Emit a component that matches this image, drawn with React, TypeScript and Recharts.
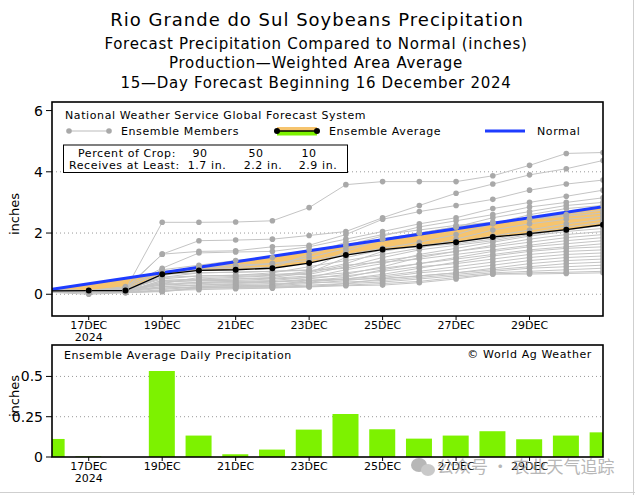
import React from "react";
import { ComposedChart, BarChart, Bar, Line, Area, XAxis, YAxis, CartesianGrid } from "recharts";

const FONT = "'DejaVu Sans', sans-serif";

// forecast days, index 0 = 16 Dec 2024
const days = [0, 1, 2, 3, 4, 5, 6, 7, 8, 9, 10, 11, 12, 13, 14, 15];
const dayLabels = ["16DEC", "17DEC", "18DEC", "19DEC", "20DEC", "21DEC", "22DEC", "23DEC",
  "24DEC", "25DEC", "26DEC", "27DEC", "28DEC", "29DEC", "30DEC", "31DEC"];
const tickDays = [1, 3, 5, 7, 9, 11, 13];

// accumulated precipitation (inches)
const normal = [0.16, 0.34, 0.52, 0.7, 0.88, 1.06, 1.24, 1.42, 1.6, 1.78, 1.96, 2.14, 2.32, 2.5, 2.68, 2.86];
const ensembleAvg = [0.11, 0.12, 0.12, 0.65, 0.78, 0.8, 0.85, 1.02, 1.28, 1.46, 1.57, 1.7, 1.87, 1.98, 2.11, 2.27];

// daily ensemble average (inches)
const dailyAvg = [0.112, 0.004, 0, 0.534, 0.133, 0.017, 0.046, 0.17, 0.267, 0.172, 0.114, 0.133, 0.16, 0.11, 0.133, 0.153];

// GFS ensemble members, accumulated
const members = [
  [0.12, 0.1, 0.15, 2.35, 2.35, 2.36, 2.4, 2.83, 3.58, 3.68, 3.68, 3.68, 3.87, 4.21, 4.6, 4.63],
  [0.1, 0.08, 0.2, 1.31, 1.75, 1.77, 1.8, 1.92, 2.05, 2.5, 2.9, 3.3, 3.6, 3.9, 4.1, 4.37],
  [0.1, 0.05, 0.15, 1.31, 1.4, 1.42, 1.55, 1.6, 1.95, 2.45, 2.7, 2.9, 3.1, 3.4, 3.6, 3.73],
  [0.15, 0.12, 0.25, 0.85, 1.35, 1.38, 1.4, 1.55, 1.8, 2.05, 2.3, 2.5, 2.8, 3.0, 3.2, 3.4],
  [0.1, 0.1, 0.18, 0.8, 0.95, 1.1, 1.2, 1.45, 1.6, 1.9, 2.2, 2.4, 2.6, 2.85, 3.0, 3.15],
  [0.12, 0.08, 0.1, 0.7, 0.9, 0.95, 1.0, 1.2, 1.5, 1.8, 2.0, 2.2, 2.5, 2.7, 2.9, 3.0],
  [0.08, 0.05, 0.1, 0.6, 0.85, 0.9, 1.0, 1.1, 1.3, 1.5, 1.7, 1.95, 2.3, 2.6, 2.8, 2.9],
  [0.1, 0.1, 0.2, 0.75, 0.8, 0.85, 0.88, 1.3, 1.7, 1.95, 2.1, 2.25, 2.35, 2.45, 2.6, 2.75],
  [0.1, 0.06, 0.12, 0.55, 0.7, 0.72, 0.75, 0.8, 1.4, 1.8, 2.0, 2.2, 2.35, 2.45, 2.55, 2.65],
  [0.12, 0.1, 0.15, 0.5, 0.6, 0.62, 0.7, 0.9, 1.1, 1.3, 1.5, 1.8, 2.1, 2.3, 2.45, 2.55],
  [0.1, 0.08, 0.1, 0.45, 0.5, 0.55, 0.6, 0.75, 1.0, 1.4, 1.6, 1.7, 1.9, 2.1, 2.3, 2.45],
  [0.08, 0.05, 0.08, 0.4, 0.45, 0.5, 0.55, 0.7, 1.2, 1.45, 1.55, 1.65, 1.8, 2.0, 2.2, 2.35],
  [0.1, 0.1, 0.12, 0.35, 0.55, 0.58, 0.62, 0.65, 0.9, 1.2, 1.45, 1.6, 1.75, 1.95, 2.1, 2.25],
  [0.15, 0.12, 0.2, 0.3, 0.4, 0.42, 0.45, 0.55, 0.8, 1.0, 1.3, 1.5, 1.7, 1.9, 2.05, 2.15],
  [0.1, 0.06, 0.15, 0.65, 0.7, 0.72, 0.75, 0.78, 0.85, 1.1, 1.25, 1.4, 1.6, 1.8, 1.95, 2.05],
  [0.08, 0.05, 0.1, 0.25, 0.3, 0.35, 0.4, 0.5, 0.65, 0.9, 1.2, 1.4, 1.55, 1.7, 1.85, 1.95],
  [0.1, 0.08, 0.12, 0.55, 0.6, 0.62, 0.65, 0.7, 0.95, 1.05, 1.15, 1.3, 1.45, 1.6, 1.75, 1.85],
  [0.12, 0.1, 0.15, 0.2, 0.25, 0.3, 0.3, 0.45, 0.55, 0.8, 1.0, 1.2, 1.4, 1.55, 1.65, 1.75],
  [0.1, 0.05, 0.08, 0.45, 0.48, 0.5, 0.52, 0.6, 0.7, 0.85, 1.0, 1.15, 1.3, 1.45, 1.55, 1.65],
  [0.08, 0.04, 0.06, 0.15, 0.25, 0.28, 0.3, 0.4, 0.5, 0.65, 0.85, 1.05, 1.25, 1.4, 1.5, 1.55],
  [0.1, 0.08, 0.1, 0.4, 0.45, 0.45, 0.5, 0.55, 0.6, 0.75, 0.9, 1.0, 1.15, 1.3, 1.4, 1.45],
  [0.12, 0.1, 0.12, 0.3, 0.35, 0.38, 0.4, 0.45, 0.5, 0.6, 0.75, 0.9, 1.05, 1.2, 1.3, 1.35],
  [0.1, 0.06, 0.08, 0.2, 0.22, 0.25, 0.28, 0.35, 0.45, 0.55, 0.7, 0.8, 0.95, 1.1, 1.2, 1.25],
  [0.08, 0.05, 0.06, 0.12, 0.15, 0.18, 0.2, 0.25, 0.35, 0.5, 0.6, 0.7, 0.85, 1.0, 1.1, 1.15],
  [0.1, 0.05, 0.1, 0.35, 0.38, 0.4, 0.42, 0.45, 0.48, 0.52, 0.6, 0.7, 0.8, 0.9, 1.0, 1.05],
  [0.1, 0.08, 0.1, 0.25, 0.3, 0.32, 0.35, 0.38, 0.4, 0.45, 0.55, 0.65, 0.75, 0.85, 0.9, 0.95],
  [0.08, 0.05, 0.06, 0.1, 0.22, 0.24, 0.26, 0.3, 0.35, 0.4, 0.5, 0.6, 0.7, 0.75, 0.8, 0.85],
  [0.1, 0.06, 0.08, 0.08, 0.2, 0.22, 0.24, 0.26, 0.3, 0.35, 0.42, 0.55, 0.66, 0.7, 0.72, 0.75],
  [0.06, 0.0, 0.05, 0.1, 0.2, 0.2, 0.22, 0.24, 0.28, 0.3, 0.38, 0.5, 0.66, 0.66, 0.68, 0.7],
];

const rows = days.map((d, i) => {
  const row: any = { day: d, normal: normal[i], avg: ensembleAvg[i], band: [ensembleAvg[i], normal[i]] };
  members.forEach((m, k) => { row[`m${k}`] = m[i]; });
  return row;
});
const barRows = days.map((d, i) => ({ day: d, precip: dailyAvg[i] }));

const DayTick = (props: any) => {
  const { x, y, payload } = props;
  return (
    <g transform={`translate(${x},${y})`}>
      <text x={0} y={7} textAnchor="middle" fontSize={11} fontFamily={FONT} fill="#000">{dayLabels[payload.value]}</text>
      {payload.value === 1 && (
        <text x={0} y={19} textAnchor="middle" fontSize={11} fontFamily={FONT} fill="#000">2024</text>
      )}
    </g>
  );
};

const memberDot = (p: any) =>
  p.index === 0 ? <g key={`${p.dataKey}-${p.index}`} /> :
    <circle key={`${p.dataKey}-${p.index}`} cx={p.cx} cy={p.cy} r={2.8} fill="#a9a9a9" />;

const avgDot = (p: any) =>
  p.index === 0 ? <g key={`avg-${p.index}`} /> :
    <circle key={`avg-${p.index}`} cx={p.cx} cy={p.cy} r={3} fill="#000" />;

const yTick = { fontSize: 14, fill: "#000", fontFamily: FONT };

export default function App() {
  return (
    <div style={{ position: "absolute", left: 0, top: 0, width: 635, height: 495, background: "#fff", fontFamily: FONT }}>
      <div style={{ position: "absolute", left: 0, top: 0 }}>
        <ComposedChart width={635} height={345} data={rows} margin={{ top: 102, right: 32, bottom: 1, left: 12 }}>
          <CartesianGrid horizontal vertical={false} horizontalValues={[0, 2, 4]} stroke="#999" strokeDasharray="1 3" />
          <XAxis dataKey="day" type="number" domain={[0, 15]} ticks={tickDays} allowDataOverflow
            height={28} axisLine={false} tickLine={{ stroke: "#000" }} tickSize={4} tickMargin={2} tick={<DayTick />} />
          <YAxis type="number" domain={[-0.71, 6.28]} ticks={[0, 2, 4, 6]} allowDataOverflow width={40}
            axisLine={false} tickLine={{ stroke: "#000" }} tickSize={6} tickMargin={3} tick={yTick} />
          <Area dataKey="band" stroke="none" fill="#f6c46e" fillOpacity={1} isAnimationActive={false} />
          {members.map((_, k) => (
            <Line key={k} dataKey={`m${k}`} stroke="#c4c4c4" strokeWidth={1} dot={memberDot}
              activeDot={false} isAnimationActive={false} />
          ))}
          <Line dataKey="normal" stroke="#1e3cff" strokeWidth={3} dot={false} activeDot={false} isAnimationActive={false} />
          <Line dataKey="avg" stroke="#000" strokeWidth={1.3} dot={avgDot} activeDot={false} isAnimationActive={false} />
        </ComposedChart>
      </div>

      <div style={{ position: "absolute", left: 0, top: 330 }}>
        <BarChart width={635} height={165} data={barRows} margin={{ top: 15, right: 32, bottom: 8, left: 12 }}>
          <CartesianGrid horizontal vertical={false} horizontalValues={[0.25, 0.5]} stroke="#999" strokeDasharray="1 3" />
          <XAxis dataKey="day" type="number" domain={[0, 15]} ticks={tickDays} allowDataOverflow
            height={30} axisLine={false} tickLine={{ stroke: "#000" }} tickSize={4} tickMargin={2} tick={<DayTick />} />
          <YAxis type="number" domain={[0, 0.695]} ticks={[0, 0.25, 0.5]} allowDataOverflow width={40}
            axisLine={false} tickLine={{ stroke: "#000" }} tickSize={6} tickMargin={3} tick={yTick} />
          <Bar dataKey="precip" fill="#7df200" barSize={26} isAnimationActive={false} />
        </BarChart>
      </div>

      <svg width={635} height={495} style={{ position: "absolute", left: 0, top: 0, pointerEvents: "none" }} fontFamily={FONT}>
        <g textAnchor="middle" fill="#000">
          <text x={317} y={26} fontSize={18} letterSpacing={1}>Rio Grande do Sul Soybeans Precipitation</text>
          <text x={316} y={49} fontSize={15} letterSpacing={0.7}>Forecast Precipitation Compared to Normal (inches)</text>
          <text x={316} y={68} fontSize={15} letterSpacing={0.7}>Production—Weighted Area Average</text>
          <text x={316} y={88} fontSize={15} letterSpacing={0.7}>15—Day Forecast Beginning 16 December 2024</text>
        </g>

        {/* plot frames */}
        <rect x={52} y={102} width={551} height={214} fill="none" stroke="#000" strokeWidth={1.6} />
        <rect x={52} y={345} width={551} height={112} fill="none" stroke="#000" strokeWidth={1.6} />

        {/* legend */}
        <g fontSize={11} letterSpacing={0.6} fill="#000">
          <text x={65} y={119}>National Weather Service Global Forecast System</text>
          <line x1={69} y1={131} x2={109} y2={131} stroke="#bbb" strokeWidth={1} />
          <circle cx={69} cy={131} r={2.8} fill="#a9a9a9" />
          <circle cx={109} cy={131} r={2.8} fill="#a9a9a9" />
          <text x={121} y={135}>Ensemble Members</text>
          <rect x={277} y={127} width={40} height={4} fill="#f6c46e" />
          <rect x={277} y={131} width={40} height={4.5} fill="#7df200" />
          <line x1={277} y1={131} x2={317} y2={131} stroke="#000" strokeWidth={1.3} />
          <circle cx={277} cy={131} r={3} fill="#000" />
          <circle cx={317} cy={131} r={3} fill="#000" />
          <text x={329} y={135}>Ensemble Average</text>
          <line x1={485} y1={131} x2={525} y2={131} stroke="#1e3cff" strokeWidth={3} />
          <text x={537} y={135}>Normal</text>

          <rect x={63.5} y={145} width={284} height={27.5} fill="#fff" stroke="#000" strokeWidth={1} />
          <text x={78} y={157}>Percent of Crop:</text>
          <text x={200} y={157} textAnchor="middle">90</text>
          <text x={256} y={157} textAnchor="middle">50</text>
          <text x={309} y={157} textAnchor="middle">10</text>
          <text x={69} y={169}>Receives at Least:</text>
          <text x={207} y={169} textAnchor="middle">1.7 in.</text>
          <text x={263} y={169} textAnchor="middle">2.2 in.</text>
          <text x={318} y={169} textAnchor="middle">2.9 in.</text>

          <text x={64} y={359}>Ensemble Average Daily Precipitation</text>
          <text x={592} y={358} textAnchor="end">© World Ag Weather</text>
        </g>

        <text transform="translate(19,214) rotate(-90)" textAnchor="middle" fontSize={13} fill="#000">inches</text>
        <text transform="translate(19,396) rotate(-90)" textAnchor="middle" fontSize={13} fill="#000">inches</text>

        {/* watermark */}
        <g fill="#a0a0a0" opacity={0.75}>
          <ellipse cx={419} cy={465} rx={8} ry={7} />
          <ellipse cx={428} cy={470} rx={7} ry={6} fill="#b8b8b8" />
          <text x={437} y={473} fontSize={17} fontFamily="'Noto Sans CJK SC', sans-serif">公众号 · 农业天气追踪</text>
        </g>

        <line x1={633.5} y1={0} x2={633.5} y2={495} stroke="#cfcfcf" strokeWidth={1} />
        <line x1={0} y1={492.5} x2={635} y2={492.5} stroke="#cfcfcf" strokeWidth={1} />
      </svg>
    </div>
  );
}
